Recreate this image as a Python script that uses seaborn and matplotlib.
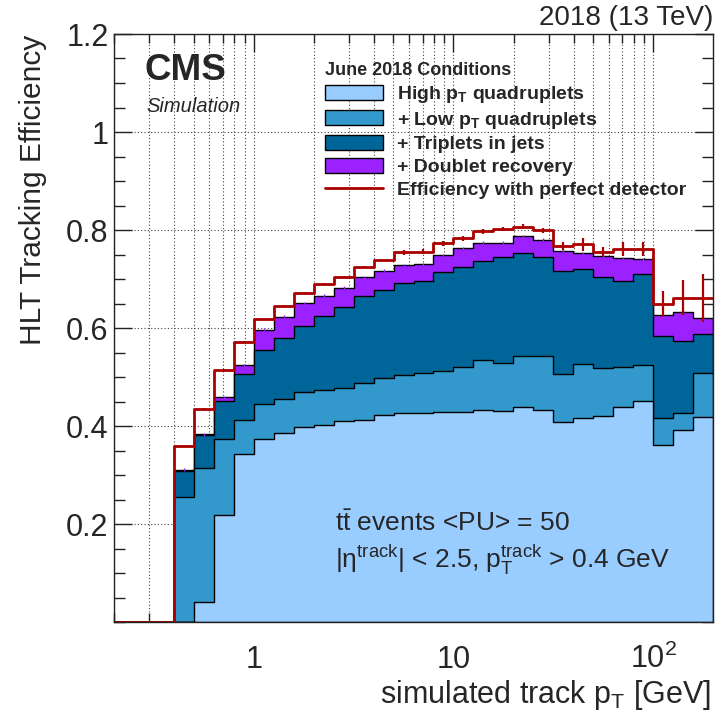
import numpy as np
import pandas as pd
import matplotlib
matplotlib.use("Agg")
import matplotlib.pyplot as plt
import seaborn as sns
from matplotlib.ticker import FixedLocator, FixedFormatter, NullFormatter, MultipleLocator
from matplotlib.patches import Patch
from matplotlib.lines import Line2D

# ---------------- data ----------------
# log10 bin edges of simulated track pT (10 bins per decade, 0.2 .. 200 GeV)
log_bin_edges = np.arange(-7, 24) / 10.0

eff_high_pt_quad = [0, 0, 0,
    0.000, 0.041, 0.218, 0.342, 0.374, 0.386, 0.397, 0.403, 0.410, 0.413,
    0.422, 0.426, 0.426, 0.428, 0.428, 0.4325, 0.431, 0.439, 0.4325, 0.4085,
    0.417, 0.420, 0.439, 0.4515, 0.361, 0.392, 0.419]
eff_low_pt_quad = [0, 0, 0,
    0.255, 0.315, 0.374, 0.412, 0.445, 0.456, 0.469, 0.4735, 0.478, 0.488,
    0.4985, 0.504, 0.508, 0.5115, 0.521, 0.535, 0.529, 0.5435, 0.543, 0.506,
    0.5265, 0.518, 0.520, 0.525, 0.4155, 0.427, 0.509]
eff_triplets_jets = [0, 0, 0,
    0.309, 0.381, 0.452, 0.506, 0.5545, 0.579, 0.604, 0.625, 0.642, 0.665,
    0.677, 0.6915, 0.696, 0.715, 0.724, 0.7375, 0.7445, 0.754, 0.7445, 0.717,
    0.720, 0.705, 0.695, 0.7105, 0.584, 0.574, 0.587]
eff_doublet_recovery = [0, 0, 0,
    0.311, 0.383, 0.4585, 0.5245, 0.596, 0.623, 0.6505, 0.666, 0.682, 0.704,
    0.7165, 0.728, 0.730, 0.749, 0.763, 0.774, 0.774, 0.787, 0.780, 0.758,
    0.753, 0.746, 0.7425, 0.7405, 0.6265, 0.6335, 0.621]
eff_perfect = [0, 0, 0,
    0.360, 0.435, 0.514, 0.571, 0.6185, 0.645, 0.671, 0.689, 0.705, 0.725,
    0.738, 0.755, 0.756, 0.773, 0.783, 0.797, 0.802, 0.807, 0.799, 0.7675,
    0.771, 0.756, 0.761, 0.761, 0.649, 0.662, 0.662]
err_perfect = [0, 0, 0,
    0.002, 0.002, 0.002, 0.002, 0.002, 0.002, 0.002, 0.002, 0.002, 0.002,
    0.002, 0.005, 0.005, 0.005, 0.005, 0.005, 0.005, 0.005, 0.005, 0.008,
    0.013, 0.010, 0.014, 0.015, 0.026, 0.036, 0.049]
err_doublet = [0, 0, 0] + [0.003] * 27

legend_labels = [r"High p$_{\mathbf{T}}$ quadruplets",
                 r"+ Low p$_{\mathbf{T}}$ quadruplets",
                 "+ Triplets in jets",
                 "+ Doublet recovery",
                 "Efficiency with perfect detector"]
x_tick_vals = [1, 10, 100]
x_tick_labels = ["1", "10", r"10$^{2}$"]
y_tick_vals = [0.2, 0.4, 0.6, 0.8, 1.0, 1.2]
y_tick_labels = ["0.2", "0.4", "0.6", "0.8", "1", "1.2"]

# ---------------- style ----------------
sns.set_theme(style="ticks")
plt.rcParams["font.family"] = ["Liberation Sans", "DejaVu Sans"]
plt.rcParams["mathtext.fontset"] = "custom"
plt.rcParams["mathtext.rm"] = "Liberation Sans"
plt.rcParams["mathtext.it"] = "Liberation Sans:italic"
plt.rcParams["mathtext.bf"] = "Liberation Sans:bold"

c_light = "#99ccff"
c_mid = "#3399cc"
c_dark = "#006699"
c_purple = "#9b22ff"
c_red = "#aa0000"

pt_centers = 10 ** ((log_bin_edges[:-1] + log_bin_edges[1:]) / 2)
bins_list = [float(b) for b in log_bin_edges]
df = pd.DataFrame({
    "pt": pt_centers,
    "high": eff_high_pt_quad,
    "low": eff_low_pt_quad,
    "trip": eff_triplets_jets,
    "doub": eff_doublet_recovery,
    "perfect": eff_perfect,
})

W, H = 716, 720
fig = plt.figure(figsize=(W / 100, H / 100), dpi=100)
ax = fig.add_axes([114 / W, (H - 622) / H, (713 - 114) / W, (622 - 34) / H])

for col, colr in [("doub", c_purple), ("trip", c_dark), ("low", c_mid), ("high", c_light)]:
    sns.histplot(data=df, x="pt", weights=col, bins=bins_list, log_scale=True,
                 element="step", fill=True, facecolor=colr, alpha=1,
                 edgecolor="black", linewidth=1.0, ax=ax, zorder=2)

sns.histplot(data=df, x="pt", weights="perfect", bins=bins_list, log_scale=True,
             element="step", fill=False, color=c_red, linewidth=2.0, ax=ax, zorder=4)

mask = np.array(eff_perfect) > 0
ax.errorbar(pt_centers[mask], np.array(eff_doublet_recovery)[mask],
            yerr=np.array(err_doublet)[mask], fmt="none", ecolor=c_purple,
            elinewidth=1.0, capsize=0, zorder=3)
ax.errorbar(pt_centers[mask], np.array(eff_perfect)[mask],
            yerr=np.array(err_perfect)[mask], fmt="none", ecolor=c_red,
            elinewidth=1.6, capsize=0, zorder=4)

ax.set_xscale("log")
ax.set_xlim(10 ** log_bin_edges[0], 10 ** log_bin_edges[-1])
ax.set_ylim(0, 1.2)
ax.set_xlabel("")
ax.set_ylabel("")

ax.xaxis.set_major_locator(FixedLocator(x_tick_vals))
ax.xaxis.set_major_formatter(FixedFormatter(x_tick_labels))
ax.xaxis.set_minor_locator(matplotlib.ticker.LogLocator(base=10, subs=np.arange(2, 10)))
ax.xaxis.set_minor_formatter(NullFormatter())
ax.yaxis.set_major_locator(FixedLocator(y_tick_vals))
ax.yaxis.set_major_formatter(FixedFormatter(y_tick_labels))
ax.yaxis.set_minor_locator(MultipleLocator(0.05))

ax.set_axisbelow(True)
ax.grid(which="both", axis="x", linestyle=(0, (1, 2)), color="#444444", linewidth=0.8, zorder=0)
ax.grid(which="major", axis="y", linestyle=(0, (1, 2)), color="#444444", linewidth=0.8, zorder=0)

ax.tick_params(which="both", direction="in", top=True, right=True, color="#222222", width=1)
ax.tick_params(axis="x", which="major", length=13, labelsize=22, pad=33)
ax.tick_params(axis="x", which="minor", length=6.5)
ax.tick_params(axis="y", which="major", length=13, labelsize=22, pad=4)
ax.tick_params(axis="y", which="minor", length=8)
for lab in ax.get_xticklabels():
    lab.set_va("baseline")
for s in ax.spines.values():
    s.set_color("#222222")
    s.set_linewidth(1.0)
    s.set_zorder(6)

handles = [Patch(facecolor=c_light, edgecolor="black", linewidth=1),
           Patch(facecolor=c_mid, edgecolor="black", linewidth=1),
           Patch(facecolor=c_dark, edgecolor="black", linewidth=1),
           Patch(facecolor=c_purple, edgecolor="black", linewidth=1),
           Line2D([], [], color=c_red, linewidth=2)]
leg = ax.legend(handles, legend_labels, title="June 2018 Conditions",
                loc="upper left", bbox_to_anchor=(0.352, 0.952), frameon=False,
                prop={"weight": "bold", "size": 14},
                title_fontproperties={"weight": "bold", "size": 13},
                alignment="left", handlelength=3.0, handleheight=0.8,
                handletextpad=0.7, labelspacing=0.24, borderaxespad=0, borderpad=0)
leg.set_zorder(7)

fig.text(713 / W, 1 - 25 / H, "2018 (13 TeV)", ha="right", va="baseline", fontsize=20)
fig.text(145 / W, 1 - 80 / H, "CMS", ha="left", va="baseline", fontsize=26.5, fontweight="bold")
fig.text(146 / W, 1 - 112 / H, "Simulation", ha="left", va="baseline", fontsize=14.5, style="italic")
fig.text(335 / W, 1 - 531 / H, r"t$\bar{\mathrm{t}}$ events <PU> = 50", ha="left",
         va="baseline", fontsize=19)
fig.text(335 / W, 1 - 568 / H,
         r"|η$^{\mathrm{track}}$| < 2.5, p$_{\mathrm{T}}^{\mathrm{track}}$ > 0.4 GeV",
         ha="left", va="baseline", fontsize=19)
fig.text(33 / W, 1 - 35 / H, "HLT Tracking Efficiency", rotation=90, ha="center",
         va="top", fontsize=21.5)
fig.text(711 / W, 1 - 703 / H, r"simulated track p$_{\mathrm{T}}$ [GeV]", ha="right",
         va="baseline", fontsize=22)

fig.savefig("out.png", dpi=100)
